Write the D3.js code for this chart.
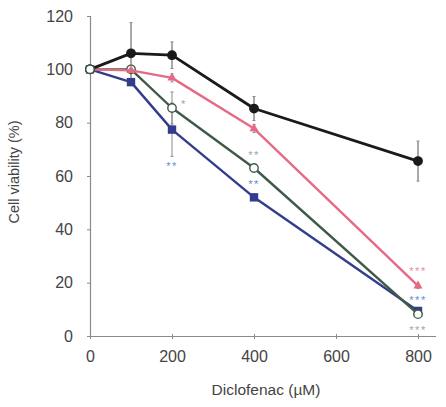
<!DOCTYPE html>
<html>
<head>
<meta charset="utf-8">
<script src="https://cdn.jsdelivr.net/npm/d3@7"></script>
<style>
  html, body { margin: 0; padding: 0; background: #fff; }
  svg { display: block; font-family: "Liberation Sans", Arial, sans-serif; }
</style>
</head>
<body>
<svg id="chart" width="446" height="407"></svg>
<script>
// Diclofenac concentrations (µM)
const doses = [0, 100, 200, 400, 800];
const xTicks = [0, 200, 400, 600, 800];
const yTicks = [0, 20, 40, 60, 80, 100, 120];

// Cell viability (%) per treatment series
const controlVals = [100, 106, 105.3, 85.3, 65.6];
const controlErr  = [0, 11.5, 5, 4.5, 7.5];
const pinkVals    = [100, 99.6, 96.8, 77.8, 18.8];
const pinkErr     = [0, 0, 1.5, 1.5, 1];
const greenVals   = [100, 100, 85.5, 63, 8.2];
const greenErr    = [0, 0, 6, 0, 1];
const blueVals    = [100, 95.2, 77.4, 52, 9.4];
const blueErr     = [0, 0, 10, 0, 1];

// significance marks: series, dose index, label
const marks = [
  { series: "green", i: 2, text: "*",   side: "right" },
  { series: "blue",  i: 2, text: "**",  side: "below" },
  { series: "green", i: 3, text: "**",  side: "above" },
  { series: "blue",  i: 3, text: "**",  side: "above" },
  { series: "pink",  i: 4, text: "***", side: "above" },
  { series: "blue",  i: 4, text: "***", side: "above2" },
  { series: "green", i: 4, text: "***", side: "below" }
];

const series = [
  { key: "blue",    vals: blueVals,    err: blueErr,    color: "#343c8e", shape: "square", fill: "#343c8e", markColor: "#5f8fd0" },
  { key: "green",   vals: greenVals,   err: greenErr,   color: "#3f5a48", shape: "circle", fill: "#fff",    markColor: "#9aa6b0" },
  { key: "pink",    vals: pinkVals,    err: pinkErr,    color: "#e66a86", shape: "triangle", fill: "#e66a86", markColor: "#e88aa0" },
  { key: "control", vals: controlVals, err: controlErr, color: "#1a1a1a", shape: "circle", fill: "#1a1a1a", markColor: "#333" }
];

const svg = d3.select("#chart");
const x = d3.scaleLinear().domain([0, 800]).range([90, 418]);
const y = d3.scaleLinear().domain([0, 120]).range([336, 16]);

const axisColor = "#8a8a8a";
const textColor = "#444";

// y axis
const yAxis = svg.append("g").attr("transform", `translate(${x(0)},0)`)
  .call(d3.axisLeft(y).tickValues(yTicks).tickSize(3).tickPadding(14));
yAxis.select(".domain").attr("stroke", axisColor).attr("stroke-width", 1.2);
yAxis.selectAll(".tick line").attr("stroke", axisColor);
yAxis.selectAll(".tick text").attr("fill", textColor)
  .style("font-size", "16px");

// x axis
const xAxis = svg.append("g").attr("transform", `translate(0,${y(0)})`)
  .call(d3.axisBottom(x).tickValues(xTicks).tickSize(3).tickPadding(12));
xAxis.select(".domain").attr("d", `M${x(0)},0.5H436`).attr("stroke", axisColor).attr("stroke-width", 1.2);
xAxis.selectAll(".tick line").attr("stroke", axisColor).attr("y1", -2);
xAxis.selectAll(".tick text").attr("fill", textColor)
  .style("font-size", "16px");

// axis titles
svg.append("text")
  .attr("x", (x(0) + x(800)) / 2 + 12).attr("y", 395)
  .attr("text-anchor", "middle").attr("fill", textColor)
  .style("font-size", "15.5px")
  .text("Diclofenac (\u00B5M)");

svg.append("text")
  .attr("transform", `translate(19,${y(60) - 4}) rotate(-90)`)
  .attr("text-anchor", "middle").attr("fill", textColor)
  .style("font-size", "14.5px")
  .text("Cell viability (%)");

const line = d3.line().x((d, i) => x(doses[i])).y(d => y(d));

// error bars
series.forEach(s => {
  const g = svg.append("g");
  s.vals.forEach((v, i) => {
    if (!s.err[i]) return;
    const cx = x(doses[i]);
    g.append("line")
      .attr("x1", cx).attr("x2", cx)
      .attr("y1", y(v + s.err[i])).attr("y2", y(v - s.err[i]))
      .attr("stroke", s.key === "control" ? "#555" : "#8a8a8a").attr("stroke-width", 1);
    [v + s.err[i], v - s.err[i]].forEach(e => {
      g.append("line")
        .attr("x1", cx - 1.5).attr("x2", cx + 1.5)
        .attr("y1", y(e)).attr("y2", y(e))
        .attr("stroke", "#8a8a8a").attr("stroke-width", 1);
    });
  });
});

// lines and markers
series.forEach(s => {
  svg.append("path").datum(s.vals)
    .attr("d", line).attr("fill", "none")
    .attr("stroke", s.color).attr("stroke-width", s.key === "control" ? 2.8 : 2.4)
    .attr("stroke-linejoin", "round");
  const g = svg.append("g");
  s.vals.forEach((v, i) => {
    const cx = x(doses[i]), cy = y(v);
    if (s.shape === "circle") {
      g.append("circle").attr("cx", cx).attr("cy", cy).attr("r", 4.2)
        .attr("fill", s.fill).attr("stroke", s.color).attr("stroke-width", 1.4);
    } else if (s.shape === "square") {
      g.append("rect").attr("x", cx - 4.2).attr("y", cy - 4.2)
        .attr("width", 8.4).attr("height", 8.4).attr("fill", s.fill);
    } else {
      g.append("path").attr("d", d3.symbol(d3.symbolTriangle, 36)())
        .attr("transform", `translate(${cx},${cy})`).attr("fill", s.fill);
    }
  });
});

// open circle at dose 0 shared by all groups
svg.append("circle").attr("cx", x(0)).attr("cy", y(100)).attr("r", 4.2)
  .attr("fill", "#fff").attr("stroke", "#3f5a48").attr("stroke-width", 1.4);

// significance asterisks
const offsets = { right: [12, -5], below: [0, 35], above: [0, -14], above2: [0, -13] };
marks.forEach(m => {
  const s = series.find(d => d.key === m.series);
  let [dx, dy] = offsets[m.side];
  if (m.series === "pink") dy = -16;
  if (m.series === "green" && m.i === 4) dy = 15;
  if (m.series === "blue" && m.i === 4) dy = -12;
  svg.append("text")
    .attr("x", x(doses[m.i]) + dx).attr("y", y(s.vals[m.i]) + dy + 5)
    .attr("text-anchor", "middle")
    .attr("fill", s.markColor)
    .style("font-size", "11px").style("letter-spacing", "1.5px")
    .text(m.text);
});
</script>
</body>
</html>
